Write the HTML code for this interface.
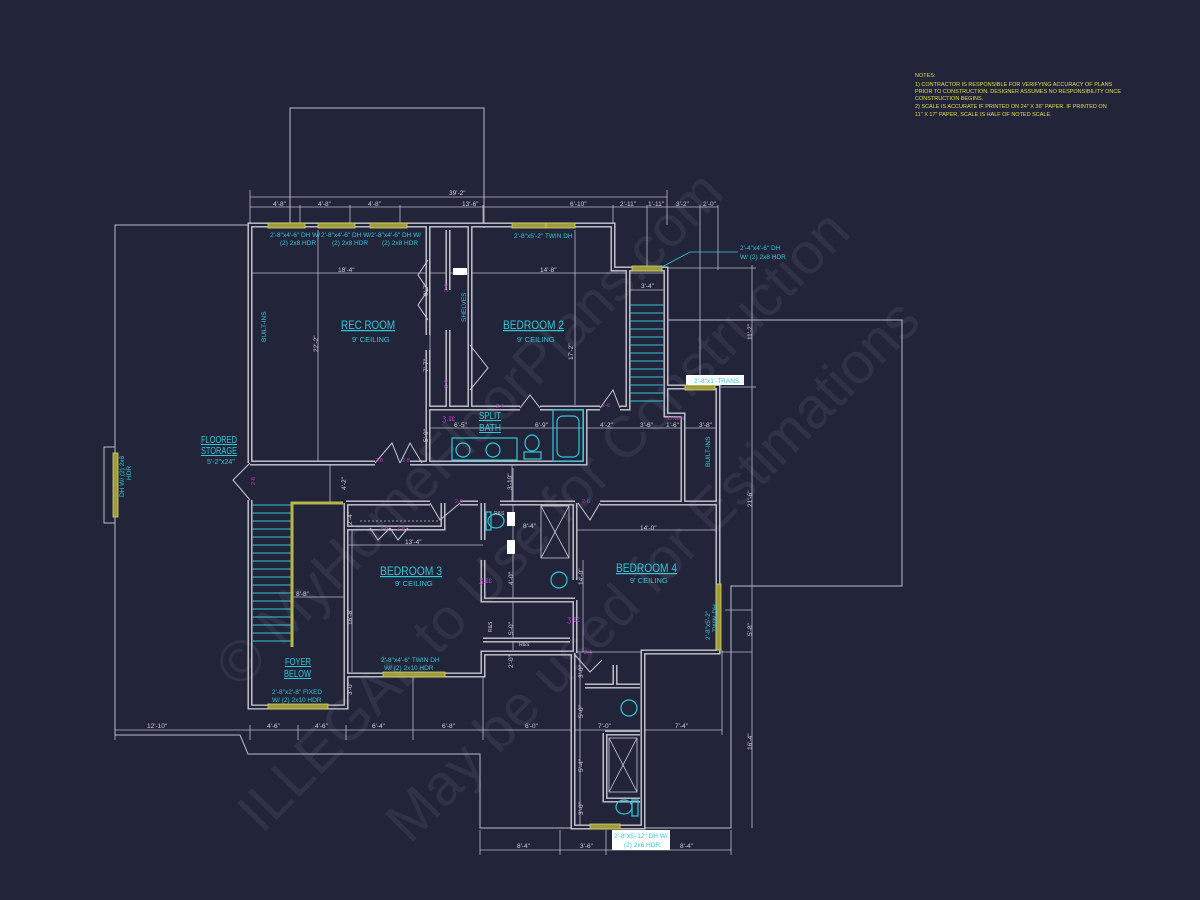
<!DOCTYPE html>
<html><head><meta charset="utf-8"><style>
html,body{margin:0;padding:0;background:#22253a;}
svg{display:block}
text{font-family:"Liberation Sans",sans-serif}
</style></head><body>
<svg width="1200" height="900" viewBox="0 0 1200 900" xmlns="http://www.w3.org/2000/svg">
<rect width="1200" height="900" fill="#22253a"/>

<g fill="none" stroke="#b9bac6" stroke-width="1">
<polyline points="290,228 290,108 484,108 484,228"/>
<polyline points="250,225 115,225 115,735 240,735 248,754 480,754 480,828 731,828 731,586 902,586 902,320 667,320"/>
<rect x="104" y="447" width="11" height="76"/>
</g>

<g stroke="#b9bac6" stroke-width="0.8" fill="none">
<line x1="250" y1="197" x2="667" y2="197"/>
<line x1="250" y1="207" x2="718" y2="207"/>
<line x1="250" y1="190" x2="250" y2="225"/><line x1="667" y1="190" x2="667" y2="225"/>
<line x1="300" y1="205" x2="300" y2="225"/><line x1="350" y1="205" x2="350" y2="225"/><line x1="400" y1="205" x2="400" y2="225"/><line x1="483" y1="205" x2="483" y2="225"/><line x1="613" y1="205" x2="613" y2="225"/><line x1="647" y1="205" x2="647" y2="268"/><line x1="700" y1="205" x2="700" y2="385"/><line x1="718" y1="205" x2="718" y2="270"/>
<line x1="250" y1="273" x2="668" y2="273"/>
<line x1="318" y1="230" x2="318" y2="462"/>
<line x1="430" y1="230" x2="430" y2="460"/>
<line x1="575" y1="230" x2="575" y2="405"/>
<line x1="430" y1="428" x2="718" y2="428"/>
<line x1="666" y1="268" x2="756" y2="268"/>
<line x1="718" y1="387" x2="756" y2="387"/>
<line x1="752" y1="265" x2="752" y2="828"/>
<line x1="628" y1="290" x2="666" y2="290"/>
<line x1="346" y1="545" x2="483" y2="545"/>
<line x1="513" y1="468" x2="513" y2="650"/>
<line x1="293" y1="597" x2="346" y2="597"/>
<line x1="352" y1="525" x2="352" y2="672"/>
<line x1="575" y1="530" x2="718" y2="530"/>
<line x1="575" y1="652" x2="752" y2="652"/>
<line x1="725" y1="610" x2="752" y2="610"/>
<line x1="115" y1="730" x2="640" y2="730"/>
<line x1="115" y1="730" x2="115" y2="740"/><line x1="250" y1="725" x2="250" y2="740"/><line x1="298" y1="725" x2="298" y2="740"/><line x1="346" y1="725" x2="346" y2="740"/><line x1="413" y1="675" x2="413" y2="740"/><line x1="483" y1="675" x2="483" y2="740"/><line x1="575" y1="725" x2="575" y2="740"/><line x1="642" y1="725" x2="642" y2="740"/>
<line x1="642" y1="730" x2="722" y2="730"/><line x1="722" y1="650" x2="722" y2="735"/>
<line x1="580" y1="653" x2="580" y2="825"/>
<line x1="480" y1="850" x2="731" y2="850"/>
<line x1="480" y1="830" x2="480" y2="855"/><line x1="560" y1="830" x2="560" y2="855"/><line x1="606" y1="830" x2="606" y2="855"/><line x1="731" y1="830" x2="731" y2="855"/>
<line x1="330" y1="465" x2="330" y2="503"/>
<line x1="512" y1="465" x2="512" y2="503"/>
<line x1="583" y1="560" x2="583" y2="652"/>
</g>

<g fill="none" stroke-linejoin="miter">
<g stroke="#c9cad3" stroke-width="5">
<path d="M250,463 V225 H613 V269 H666 V387 H718 V652 H643 V827 H573 V653 H483 V675 H346 V707 H250 V500"/>
<path d="M428,225 V335 M428,350 V463"/>
<path d="M448,230 V290 M448,330 V408"/>
<path d="M470,225 V408"/>
<path d="M250,463 H375 M410,463 H585 V408"/>
<path d="M428,408 H520 M540,408 H600 M620,408 H628 V269"/>
<path d="M346,503 H430 M460,503 H478 M500,503 H575 M600,503 H718"/>
<path d="M346,528 H443 V503"/>
<path d="M346,503 V675"/>
<path d="M483,503 V540 M483,560 V600 H575"/>
<path d="M575,503 V580 M575,600 V653"/>
<path d="M483,640 H570"/>
<path d="M585,686 H615 V665 M615,686 H640"/>
<path d="M605,733 H640 M605,733 V800 H640"/>
<path d="M666,387 V415 H683 V503"/>
<path d="M250,707 H346"/>
</g>
<g stroke="#22253a" stroke-width="2.2">
<path d="M250,463 V225 H613 V269 H666 V387 H718 V652 H643 V827 H573 V653 H483 V675 H346 V707 H250 V500"/>
<path d="M428,225 V335 M428,350 V463"/>
<path d="M448,230 V290 M448,330 V408"/>
<path d="M470,225 V408"/>
<path d="M250,463 H375 M410,463 H585 V408"/>
<path d="M428,408 H520 M540,408 H600 M620,408 H628 V269"/>
<path d="M346,503 H430 M460,503 H478 M500,503 H575 M600,503 H718"/>
<path d="M346,528 H443 V503"/>
<path d="M346,503 V675"/>
<path d="M483,503 V540 M483,560 V600 H575"/>
<path d="M575,503 V580 M575,600 V653"/>
<path d="M483,640 H570"/>
<path d="M585,686 H615 V665 M615,686 H640"/>
<path d="M605,733 H640 M605,733 V800 H640"/>
<path d="M666,387 V415 H683 V503"/>
<path d="M250,707 H346"/>
</g>
</g>

<g fill="none" stroke="#c9cad3" stroke-width="1">
<path d="M428,260 L418,275 L428,290 M428,290 L418,305 L428,320"/>
<path d="M470,345 L488,368 L470,390"/>
<path d="M375,463 L392,443 L400,463 M400,463 L410,443 L422,463"/>
<path d="M250,463 L233,480 L250,500"/>
<path d="M600,408 L613,390 L620,408"/>
<path d="M430,503 L440,520 L460,503"/>
<path d="M578,503 L590,520 L600,503"/>
<path d="M370,528 L378,540 L390,528 M390,528 L398,540 L408,528"/>
<path d="M575,655 L590,672 L602,660"/>
<path d="M520,408 L530,395 L540,408"/>
</g>

<g stroke="#2fc7d6" stroke-width="1">
<line x1="630" y1="305" x2="664" y2="305"/><line x1="630" y1="313" x2="664" y2="313"/><line x1="630" y1="321" x2="664" y2="321"/><line x1="630" y1="329" x2="664" y2="329"/><line x1="630" y1="337" x2="664" y2="337"/><line x1="630" y1="345" x2="664" y2="345"/><line x1="630" y1="353" x2="664" y2="353"/><line x1="630" y1="361" x2="664" y2="361"/><line x1="630" y1="369" x2="664" y2="369"/><line x1="630" y1="377" x2="664" y2="377"/><line x1="630" y1="385" x2="664" y2="385"/><line x1="630" y1="393" x2="664" y2="393"/><line x1="630" y1="401" x2="664" y2="401"/>
<line x1="253" y1="505" x2="292" y2="505"/><line x1="253" y1="513" x2="292" y2="513"/><line x1="253" y1="521" x2="292" y2="521"/><line x1="253" y1="529" x2="292" y2="529"/><line x1="253" y1="537" x2="292" y2="537"/><line x1="253" y1="545" x2="292" y2="545"/><line x1="253" y1="553" x2="292" y2="553"/><line x1="253" y1="561" x2="292" y2="561"/><line x1="253" y1="569" x2="292" y2="569"/><line x1="253" y1="577" x2="292" y2="577"/><line x1="253" y1="585" x2="292" y2="585"/><line x1="253" y1="593" x2="292" y2="593"/><line x1="253" y1="601" x2="292" y2="601"/><line x1="253" y1="609" x2="292" y2="609"/><line x1="253" y1="617" x2="292" y2="617"/><line x1="253" y1="625" x2="292" y2="625"/><line x1="253" y1="633" x2="292" y2="633"/><line x1="253" y1="641" x2="292" y2="641"/>
</g>
<g stroke="#b8b64a" stroke-width="3"><polyline points="292,647 292,503 343,503" fill="none"/></g>

<g fill="none" stroke="#2fc7d6" stroke-width="1.2">
<rect x="553" y="410" width="30" height="51"/><rect x="557" y="416" width="22" height="41" rx="6"/>
<rect x="452" y="438" width="65" height="22"/>
<circle cx="463" cy="450" r="7"/><circle cx="493" cy="450" r="7"/>
<ellipse cx="532" cy="443" rx="7" ry="8"/><rect x="524" y="452" width="17" height="7"/>
<ellipse cx="496" cy="521" rx="8" ry="7"/><rect x="486" y="512" width="5" height="18"/>
<circle cx="559" cy="580" r="8"/><circle cx="629" cy="708" r="8"/>
<ellipse cx="624" cy="807" rx="8" ry="7"/><rect x="632" y="800" width="6" height="16"/>
</g>
<g fill="none" stroke="#c9cad3" stroke-width="0.8">
<rect x="541" y="506" width="28" height="52"/><path d="M541,506 L569,558 M569,506 L541,558"/>
<rect x="609" y="738" width="28" height="54"/><path d="M609,738 L637,792 M637,738 L609,792"/>
<line x1="360" y1="521" x2="440" y2="521" stroke-dasharray="2,2"/>
</g>
<g fill="#fff"><rect x="453" y="268" width="14" height="7"/><rect x="507" y="512" width="8" height="14"/><rect x="507" y="540" width="8" height="14"/></g>

<g fill="#9e9c43" stroke="#d9d65a" stroke-width="0.8">
<rect x="268" y="223" width="37" height="5"/><rect x="318" y="223" width="37" height="5"/><rect x="370" y="223" width="37" height="5"/>
<rect x="512" y="223" width="34" height="5"/><rect x="546" y="223" width="29" height="5"/>
<rect x="632" y="266" width="30" height="5"/><rect x="685" y="385" width="30" height="5"/>
<rect x="716" y="584" width="5" height="66"/><rect x="383" y="672" width="62" height="5"/>
<rect x="268" y="704" width="60" height="5"/><rect x="590" y="824" width="30" height="5"/>
<rect x="113" y="453" width="5" height="64"/>
</g>

<rect x="686" y="375" width="58" height="10" fill="#fff"/>
<rect x="612" y="830" width="58" height="20" fill="#fff"/>
<polyline points="660,268 690,252 738,252" fill="none" stroke="#2fc7d6" stroke-width="0.8"/>

<g fill="#2fc7d6" font-size="6.5">
<text x="270" y="237">2'-8"x4'-6" DH W/</text><text x="280" y="245">(2) 2x8 HDR</text>
<text x="321" y="237">2'-8"x4'-6" DH W/</text><text x="332" y="245">(2) 2x8 HDR</text>
<text x="371" y="237">2'-8"x4'-6" DH W/</text><text x="382" y="245">(2) 2x8 HDR</text>
<text x="514" y="238">2'-8"x5'-2" TWIN DH</text>
<text x="740" y="250">2'-4"x4'-6" DH</text><text x="740" y="259">W/ (2) 2x8 HDR</text>
<text x="694" y="383">2'-8"x1'-TRANS.</text>
<text x="381" y="662">2'-8"x4'-6" TWIN DH</text><text x="384" y="670">W/ (2) 2x10 HDR</text>
<text x="272" y="694">2'-8"x2'-8" FIXED</text><text x="272" y="702">W/ (2) 2x10 HDR</text>
<text x="614" y="838">2'-8"x5'-12" DH W/</text><text x="624" y="847">(2) 2x6 HDR</text>
<text x="352" y="342" font-size="7.5">9' CEILING</text>
<text x="517" y="342" font-size="7.5">9' CEILING</text>
<text x="395" y="586" font-size="7.5">9' CEILING</text>
<text x="630" y="583" font-size="7.5">9' CEILING</text>
<text x="207" y="464" font-size="7">5'-2"x24"</text>
<text transform="translate(266,342) rotate(-90)">BUILT-INS</text>
<text transform="translate(466,322) rotate(-90)">SHELVES</text>
<text transform="translate(710,467) rotate(-90)">BUILT-INS</text>
<text transform="translate(124,497) rotate(-90)">DH W/ (2) 2x6</text><text transform="translate(131,480) rotate(-90)">HDR</text>
<text transform="translate(710,640) rotate(-90)">2'-8"x5'-2"</text><text transform="translate(717,632) rotate(-90)">TWIN DH</text>
</g>
<g fill="#2fc7d6" font-size="12" text-decoration="underline">
<text x="341" y="329" textLength="54" lengthAdjust="spacingAndGlyphs">REC ROOM</text>
<text x="503" y="329" textLength="61" lengthAdjust="spacingAndGlyphs">BEDROOM 2</text>
<text x="380" y="575" textLength="62" lengthAdjust="spacingAndGlyphs">BEDROOM 3</text>
<text x="616" y="572" textLength="61" lengthAdjust="spacingAndGlyphs">BEDROOM 4</text>
<text x="479" y="419" font-size="10" textLength="22" lengthAdjust="spacingAndGlyphs">SPLIT</text><text x="479" y="431" font-size="10" textLength="22" lengthAdjust="spacingAndGlyphs">BATH</text>
<text x="201" y="443" font-size="10" textLength="36" lengthAdjust="spacingAndGlyphs">FLOORED</text><text x="201" y="454" font-size="10" textLength="36" lengthAdjust="spacingAndGlyphs">STORAGE</text>
<text x="285" y="665" font-size="10" textLength="26" lengthAdjust="spacingAndGlyphs">FOYER</text><text x="284" y="677" font-size="10" textLength="27" lengthAdjust="spacingAndGlyphs">BELOW</text>
</g>

<g fill="#c23cc4" font-size="5.5">
<text x="375" y="462">2-8</text><text x="402" y="462">2-8</text><text x="602" y="407">2-6</text><text x="496" y="408">2-4</text>
<text x="455" y="503">2-6</text><text x="582" y="503">2-6</text><text x="380" y="530">2-8</text><text x="397" y="530">2-8</text>
<text x="584" y="654">2-4</text><text x="668" y="420">LINEN</text>
<text x="479" y="583" font-size="8">ʒ.ɪɛ</text><text x="567" y="622" font-size="8">ʒ.ɪɛ</text><text x="442" y="421" font-size="8">ʒ.ɪɛ</text>
<text transform="translate(448,292) rotate(-90)">2-4</text><text transform="translate(448,388) rotate(-90)">2-4</text>
<text transform="translate(255,485) rotate(-90)">2-6</text>
</g>

<g fill="#d0d0da" font-size="6.5">
<text x="449" y="195">39'-2"</text>
<text x="273" y="206">4'-8"</text><text x="318" y="206">4'-8"</text><text x="368" y="206">4'-8"</text><text x="462" y="206">13'-6"</text><text x="570" y="206">6'-10"</text><text x="620" y="206">2'-11"</text><text x="648" y="206">1'-11"</text><text x="676" y="206">3'-2"</text><text x="703" y="206">2'-0"</text>
<text x="338" y="272">18'-4"</text><text x="540" y="272">14'-8"</text><text x="641" y="288">3'-4"</text>
<text x="454" y="427">6'-5"</text><text x="535" y="427">6'-9"</text><text x="600" y="427">4'-2"</text><text x="640" y="427">3'-6"</text><text x="666" y="427">1'-6"</text><text x="699" y="427">3'-8"</text>
<text x="523" y="528">8'-4"</text><text x="405" y="544">13'-4"</text><text x="640" y="530">14'-0"</text><text x="296" y="596">8'-8"</text>
<text x="147" y="728">12'-10"</text><text x="267" y="728">4'-6"</text><text x="315" y="728">4'-6"</text><text x="372" y="728">6'-4"</text><text x="442" y="728">6'-8"</text><text x="525" y="728">6'-0"</text><text x="598" y="728">7'-0"</text><text x="675" y="728">7'-4"</text>
<text x="517" y="848">8'-4"</text><text x="580" y="848">3'-6"</text><text x="680" y="848">8'-4"</text>
<text transform="translate(318,352) rotate(-90)">22'-2"</text>
<text transform="translate(428,296) rotate(-90)">9'-7"</text>
<text transform="translate(428,372) rotate(-90)">7'-7"</text>
<text transform="translate(428,442) rotate(-90)">5'-0"</text>
<text transform="translate(573,360) rotate(-90)">17'-2"</text>
<text transform="translate(752,340) rotate(-90)">11'-2"</text>
<text transform="translate(752,507) rotate(-90)">21'-6"</text>
<text transform="translate(752,636) rotate(-90)">5'-8"</text>
<text transform="translate(752,750) rotate(-90)">16'-4"</text>
<text transform="translate(346,490) rotate(-90)">4'-2"</text>
<text transform="translate(512,490) rotate(-90)">3'-10"</text>
<text transform="translate(352,525) rotate(-90)">2'-4"</text>
<text transform="translate(352,625) rotate(-90)">16'-8"</text>
<text transform="translate(352,695) rotate(-90)">3'-0"</text>
<text transform="translate(513,585) rotate(-90)">4'-0"</text>
<text transform="translate(513,635) rotate(-90)">5'-0"</text>
<text transform="translate(513,668) rotate(-90)">2'-0"</text>
<text transform="translate(583,585) rotate(-90)">14'-0"</text>
<text transform="translate(583,678) rotate(-90)">3'-0"</text>
<text transform="translate(583,718) rotate(-90)">5'-0"</text>
<text transform="translate(583,772) rotate(-90)">5'-4"</text>
<text transform="translate(583,815) rotate(-90)">3'-0"</text>
<text x="494" y="515" font-size="5">R&amp;S</text><text x="519" y="646" font-size="5">R&amp;S</text>
<text transform="translate(492,632) rotate(-90)" font-size="5">R&amp;S</text>
</g>

<g fill="#e3dd48" font-size="5.5">
<text x="915" y="77">NOTES:</text>
<text x="915" y="86">1) CONTRACTOR IS RESPONSIBLE FOR VERIFYING ACCURACY OF PLANS</text>
<text x="915" y="93">PRIOR TO CONSTRUCTION. DESIGNER ASSUMES NO RESPONSIBILITY ONCE</text>
<text x="915" y="100">CONSTRUCTION BEGINS.</text>
<text x="915" y="108">2) SCALE IS ACCURATE IF PRINTED ON 24" X 36" PAPER.  IF PRINTED ON</text>
<text x="915" y="116">11" X 17" PAPER, SCALE IS HALF OF NOTED SCALE.</text>
</g>

<g fill="#c8c8d2" fill-opacity="0.09" font-family="Liberation Serif,serif" font-size="58">
<text transform="translate(240,690) rotate(-45.5)">© MyHomeFloorPlans.com</text>
<text transform="translate(262,835) rotate(-45.5)">ILLEGAL to Use for Construction</text>
<text transform="translate(410,845) rotate(-45.5)">May be used for Estimations</text>
</g>
</svg>
</body></html>
